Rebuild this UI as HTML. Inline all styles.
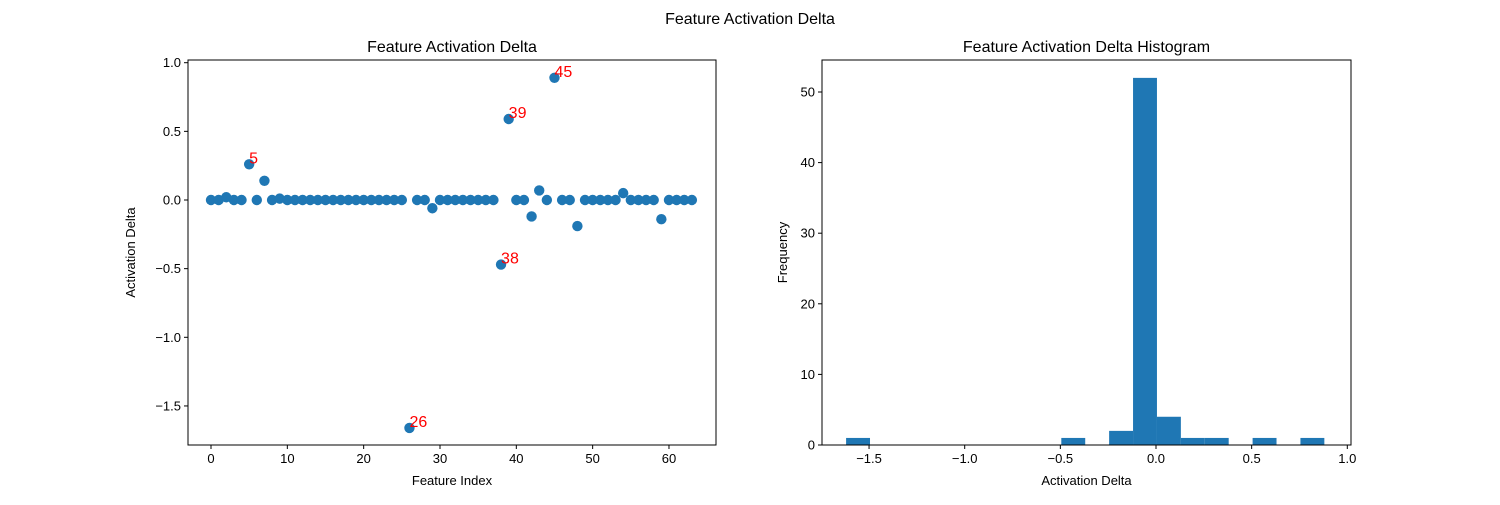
<!DOCTYPE html>
<html><head><meta charset="utf-8"><style>
body{margin:0;background:#fff;}
svg text{font-family:"Liberation Sans","DejaVu Sans",sans-serif;}
</style></head><body>
<svg id="c" width="1500" height="500" xmlns="http://www.w3.org/2000/svg">
<rect width="1500" height="500" fill="#fff"/>
<text x="750" y="24" font-size="16" text-anchor="middle">Feature Activation Delta</text>
<g id="left"></g>
<g id="right"></g>
</svg>
<script>
const deltas = [0,0,0.02,0,0,0.26,0,0.14,0,0.01,0,0,0,0,0,0,0,0,0,0,0,0,0,0,0,0,-1.66,0,0,-0.06,0,0,0,0,0,0,0,0,-0.47,0.59,0,0,-0.12,0.07,0,0.89,0,0,-0.19,0,0,0,0,0,0.05,0,0,0,0,-0.14,0,0,0,0];
const annotated = [5,26,38,39,45];
const scatterXTicks = [0,10,20,30,40,50,60];
const scatterYTicks = [1.0,0.5,0.0,-0.5,-1.0,-1.5];
const histMin = -1.62, histMax = 0.88;
const histCounts = [1,0,0,0,0,0,0,0,0,1,0,2,52,4,1,1,0,1,0,1];
const histXTicks = [-1.5,-1.0,-0.5,0.0,0.5,1.0];
const histYTicks = [0,10,20,30,40,50];

const NS="http://www.w3.org/2000/svg";
function mk(p,t,a){const e=document.createElementNS(NS,t);for(const k in a)e.setAttribute(k,a[k]);p.appendChild(e);return e;}
function fmt(v){return (v<0?"\u2212":"")+Math.abs(v).toFixed(1);}

// left
const L=document.getElementById('left');
const lx=v=>211+(v)*7.633, ly=v=>200-v*137.3;
const LX0=188,LX1=716,LY0=60,LY1=445;
let t=mk(L,'text',{x:(LX0+LX1)/2,y:52,'font-size':16,'text-anchor':'middle'});t.textContent='Feature Activation Delta';

scatterXTicks.forEach(v=>{const x=lx(v);mk(L,'line',{x1:x,x2:x,y1:LY1,y2:LY1+4,stroke:'#000'});
 const s=mk(L,'text',{x:x,y:LY1+18,'font-size':13,'text-anchor':'middle'});s.textContent=v;
 });
scatterYTicks.forEach(v=>{const y=ly(v);mk(L,'line',{x1:LX0-4,x2:LX0,y1:y,y2:y,stroke:'#000'});
 const s=mk(L,'text',{x:LX0-7,y:y+4.5,'font-size':13,'text-anchor':'end'});s.textContent=fmt(v);
 });
t=mk(L,'text',{x:(LX0+LX1)/2,y:485,'font-size':13,'text-anchor':'middle'});t.textContent='Feature Index';

t=mk(L,'text',{x:135,y:(LY0+LY1)/2,'font-size':13,'text-anchor':'middle',transform:`rotate(-90 135 ${(LY0+LY1)/2})`});t.textContent='Activation Delta';

deltas.forEach((v,i)=>{const c=mk(L,'circle',{cx:lx(i),cy:ly(v),r:5.2,fill:'#1f77b4'});
 });
annotated.forEach(i=>{const s=mk(L,'text',{x:lx(i),y:ly(deltas[i])-1,'font-size':16,fill:'red'});s.textContent=i;
 });
mk(L,'rect',{x:LX0,y:LY0,width:LX1-LX0,height:LY1-LY0,fill:'none',stroke:'#000','stroke-width':1});

// right
const R=document.getElementById('right');
const RX0=822,RX1=1351,RY0=60,RY1=445;
const rx=v=>1156+v*191.3, ry=v=>445-v*7.06;
t=mk(R,'text',{x:(RX0+RX1)/2,y:52,'font-size':16,'text-anchor':'middle'});t.textContent='Feature Activation Delta Histogram';

const bw=(histMax-histMin)/histCounts.length;
histCounts.forEach((c,i)=>{if(!c)return;const a=histMin+i*bw;const r=mk(R,'rect',{x:rx(a),y:ry(c),width:rx(a+bw)-rx(a),height:ry(0)-ry(c),fill:'#1f77b4'});
 });
histXTicks.forEach(v=>{const x=rx(v);mk(R,'line',{x1:x,x2:x,y1:RY1,y2:RY1+4,stroke:'#000'});
 const s=mk(R,'text',{x:x,y:RY1+18,'font-size':13,'text-anchor':'middle'});s.textContent=fmt(v);
 });
histYTicks.forEach(v=>{const y=ry(v);mk(R,'line',{x1:RX0-4,x2:RX0,y1:y,y2:y,stroke:'#000'});
 const s=mk(R,'text',{x:RX0-7,y:y+4.5,'font-size':13,'text-anchor':'end'});s.textContent=v;
 });
t=mk(R,'text',{x:(RX0+RX1)/2,y:485,'font-size':13,'text-anchor':'middle'});t.textContent='Activation Delta';

t=mk(R,'text',{x:787,y:(RY0+RY1)/2,'font-size':13,'text-anchor':'middle',transform:`rotate(-90 787 ${(RY0+RY1)/2})`});t.textContent='Frequency';

mk(R,'rect',{x:RX0,y:RY0,width:RX1-RX0,height:RY1-RY0,fill:'none',stroke:'#000','stroke-width':1});
</script>
</body></html>
